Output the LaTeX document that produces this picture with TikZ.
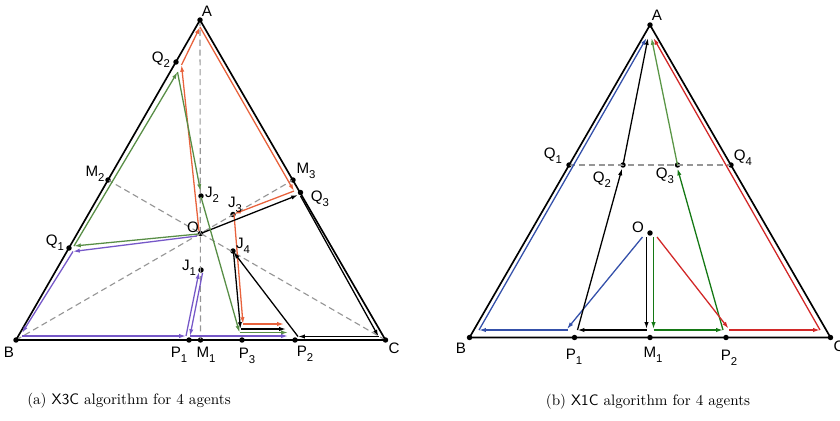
\documentclass[tikz,border=0pt]{standalone}
\usepackage{fontspec}
\newfontfamily\lf{Liberation Sans}
\usetikzlibrary{arrows.meta}
\definecolor{orA}{RGB}{232,98,60}
\definecolor{grA}{RGB}{88,142,70}
\definecolor{puA}{RGB}{118,88,200}
\definecolor{blB}{RGB}{52,80,170}
\definecolor{rdB}{RGB}{210,40,40}
\definecolor{gdB}{RGB}{20,120,20}
\definecolor{glB}{RGB}{90,150,70}
\definecolor{dsA}{RGB}{150,150,150}
\newcommand\sbs[1]{\raisebox{-0.6ex}{\fontsize{7.5}{8}\selectfont #1}}
\tikzset{
 dot/.style={circle,fill=black,inner sep=0pt,minimum size=3.6pt},
 lab/.style={font=\lf\fontsize{10}{11}\selectfont, inner sep=0pt},
 tri/.style={line width=1.1pt, line join=miter},
 dsh/.style={dsA, dash pattern=on 4pt off 2.5pt, line width=0.75pt},
 arr/.style={-{Latex[length=4.5pt,width=2.8pt]}, line width=0.85pt},
 captxt/.style={font=\fontsize{10}{12}\selectfont, inner sep=0pt},
}
\begin{document}
\begin{tikzpicture}[x=0.66pt,y=-0.66pt]
\useasboundingbox (0,0) rectangle (840,420);
% ===== left figure =====
\node[dot] (A) at (200,20) {};
\node[dot] (B) at (16,340) {};
\node[dot] (C) at (385.5,340) {};
\node[dot] (M1) at (200.5,340) {};
\node[dot] (P1) at (189,340) {};
\node[dot] (P3) at (242,340) {};
\node[dot] (P2) at (295,340) {};
\node[dot] (Q2) at (176,62) {};
\node[dot] (M2) at (108,180) {};
\node[dot] (Q1) at (69,248) {};
\node[dot] (M3) at (293,180) {};
\node[dot] (Q3) at (300.5,192.5) {};
\node[dot] (O) at (200.5,233.5) {};
\node[dot] (J2) at (201,196) {};
\node[dot] (J3) at (233,214.5) {};
\node[dot] (J4) at (233,251) {};
\node[dot] (J1) at (201,270) {};
% dashed medians
\draw[dsh] (A.center) -- (M1.center);
\draw[dsh] (B.center) -- (M3.center);
\draw[dsh] (C.center) -- (M2.center);
% triangle
\draw[tri] (A.center) -- (B.center) -- (C.center) -- cycle;
% orange agent
\coordinate (o0) at (199,231);
\coordinate (o1) at (181.5,65);
\coordinate (o2) at (200,27);
\coordinate (o3) at (294,191);
\coordinate (o4) at (234,214);
\coordinate (o5) at (243,324);
\coordinate (o6) at (284,324);
\draw[arr,orA] (o0) -- (o1);
\draw[arr,orA] (o1) -- (o2);
\draw[arr,orA] (o2) -- (o3);
\draw[arr,orA] (o3) -- (o4);
\draw[arr,orA] (o4) -- (o5);
\draw[arr,orA] (o5) -- (o6);
% black agent
\coordinate (k0) at (202,233);
\coordinate (k1) at (298,195);
\coordinate (k1b) at (300.5,196);
\coordinate (k2) at (378.5,336.5);
\coordinate (k3) at (298,336.5);
\coordinate (k4) at (233.5,252);
\coordinate (k5) at (240.5,329);
\coordinate (k6) at (286,329);
\draw[arr,black] (k0) -- (k1);
\draw[arr,black] (k1b) -- (k2);
\draw[arr,black] (k2) -- (k3);
\draw[arr,black] (k3) -- (k4);
\draw[arr,black] (k4) -- (k5);
\draw[arr,black] (k5) -- (k6);
% green agent
\coordinate (g0) at (198,234);
\coordinate (g1) at (74,246);
\coordinate (g2) at (177.5,72);
\coordinate (g3) at (200.5,191);
\coordinate (g3b) at (201,197);
\coordinate (g4) at (239.5,332.5);
\coordinate (g5) at (288,332.5);
\draw[arr,grA] (g0) -- (g1);
\draw[arr,grA] (g1) -- (g2);
\draw[arr,grA] (g2) -- (g3);
\draw[arr,grA] (g3b) -- (g4);
\draw[arr,grA] (g4) -- (g5);
% purple agent
\coordinate (p0) at (197,236);
\coordinate (p1) at (73,251.5);
\coordinate (p2) at (22,333);
\coordinate (p2b) at (22,336);
\coordinate (p3) at (186,336);
\coordinate (p4) at (199,272);
\coordinate (p4b) at (202.5,273);
\coordinate (p5) at (190,336);
\coordinate (p6) at (288,336);
\draw[arr,puA] (p0) -- (p1);
\draw[arr,puA] (p1) -- (p2);
\draw[arr,puA] (p2b) -- (p3);
\draw[arr,puA] (p3) -- (p4);
\draw[arr,puA] (p4b) -- (p5);
\draw[arr,puA] (p5) -- (p6);
% labels
\node[lab] (lA) at (207,11) {A};
\node[lab] (lB) at (9,352) {B};
\node[lab] (lC) at (394,348) {C};
\node[lab] (lQ2) at (161,60) {Q\sbs{2}};
\node[lab] (lM2) at (95,174) {M\sbs{2}};
\node[lab] (lQ1) at (55,243) {Q\sbs{1}};
\node[lab] (lO) at (193,227) {O};
\node[lab] (lJ2) at (212,195) {J\sbs{2}};
\node[lab] (lJ3) at (235,205) {J\sbs{3}};
\node[lab] (lM3) at (306,171) {M\sbs{3}};
\node[lab] (lQ3) at (320,199) {Q\sbs{3}};
\node[lab] (lJ4) at (243,246) {J\sbs{4}};
\node[lab] (lJ1) at (189,268) {J\sbs{1}};
\node[lab] (lP1) at (179,355) {P\sbs{1}};
\node[lab] (lM1) at (206,355) {M\sbs{1}};
\node[lab] (lP3) at (247,356) {P\sbs{3}};
\node[lab] (lP2) at (305,354) {P\sbs{2}};
\node[captxt] (capA) at (129,401) {(a) \textsf{X3C} algorithm for 4 agents};
% ===== right figure =====
\node[dot] (RA) at (650,25) {};
\node[dot] (RB) at (469.5,337.5) {};
\node[dot] (RC) at (830.5,337.5) {};
\node[dot] (RM1) at (650,337.5) {};
\node[dot] (RP1) at (574.5,337.5) {};
\node[dot] (RP2) at (726,337.5) {};
\node[dot] (RQ1) at (569,165) {};
\node[dot] (RQ2) at (623,165) {};
\node[dot] (RQ3) at (677.5,165) {};
\node[dot] (RQ4) at (731,165) {};
\node[dot] (RO) at (650,233) {};
\draw[dsh] (RQ1.center) -- (RQ4.center);
\draw[tri] (RA.center) -- (RB.center) -- (RC.center) -- cycle;
% blue
\coordinate (b0) at (642.5,237);
\coordinate (b1) at (567,329);
\coordinate (b1b) at (568,330);
\coordinate (b2) at (479,330);
\coordinate (b3) at (646.5,38);
\draw[arr,blB] (b0) -- (b1);
\draw[arr,blB] (b1b) -- (b2);
\draw[arr,blB] (b2) -- (b3);
% black
\coordinate (c0) at (646.5,237);
\coordinate (c1) at (646.5,329);
\coordinate (c1b) at (646.5,330);
\coordinate (c2) at (577.5,330);
\coordinate (c3) at (622,168.5);
\coordinate (c4) at (648,38);
\draw[arr,black] (c0) -- (c1);
\draw[arr,black] (c1b) -- (c2);
\draw[arr,black] (c2) -- (c3);
\draw[arr,black] (RQ2.center) -- (c4);
% green
\coordinate (e0) at (653.5,237);
\coordinate (e1) at (653.5,329);
\coordinate (e1b) at (653.5,330);
\coordinate (e2) at (723,330);
\coordinate (e3) at (677.5,168.5);
\coordinate (e4) at (651.5,38);
\draw[arr,gdB] (e0) -- (e1);
\draw[arr,gdB] (e1b) -- (e2);
\draw[arr,gdB] (e2) -- (e3);
\draw[arr,glB] (RQ3.center) -- (e4);
% red
\coordinate (r0) at (657,237);
\coordinate (r1) at (728.5,328.5);
\coordinate (r1b) at (729,330);
\coordinate (r2) at (820,330);
\coordinate (r3) at (653.5,38);
\draw[arr,rdB] (r0) -- (r1);
\draw[arr,rdB] (r1b) -- (r2);
\draw[arr,rdB] (r2) -- (r3);
% labels
\node[lab] (lRA) at (657,15) {A};
\node[lab] (lRB) at (461,348) {B};
\node[lab] (lRC) at (839,346) {C};
\node[lab] (lRQ1) at (553,156) {Q\sbs{1}};
\node[lab] (lRQ4) at (743,158) {Q\sbs{4}};
\node[lab] (lRQ2) at (602,180) {Q\sbs{2}};
\node[lab] (lRQ3) at (665,176) {Q\sbs{3}};
\node[lab] (lRO) at (638,227) {O};
\node[lab] (lRP1) at (574,357) {P\sbs{1}};
\node[lab] (lRM1) at (653,355) {M\sbs{1}};
\node[lab] (lRP2) at (729,358) {P\sbs{2}};
\node[captxt] (capB) at (648,402) {(b) \textsf{X1C} algorithm for 4 agents};
\end{tikzpicture}
\end{document}
